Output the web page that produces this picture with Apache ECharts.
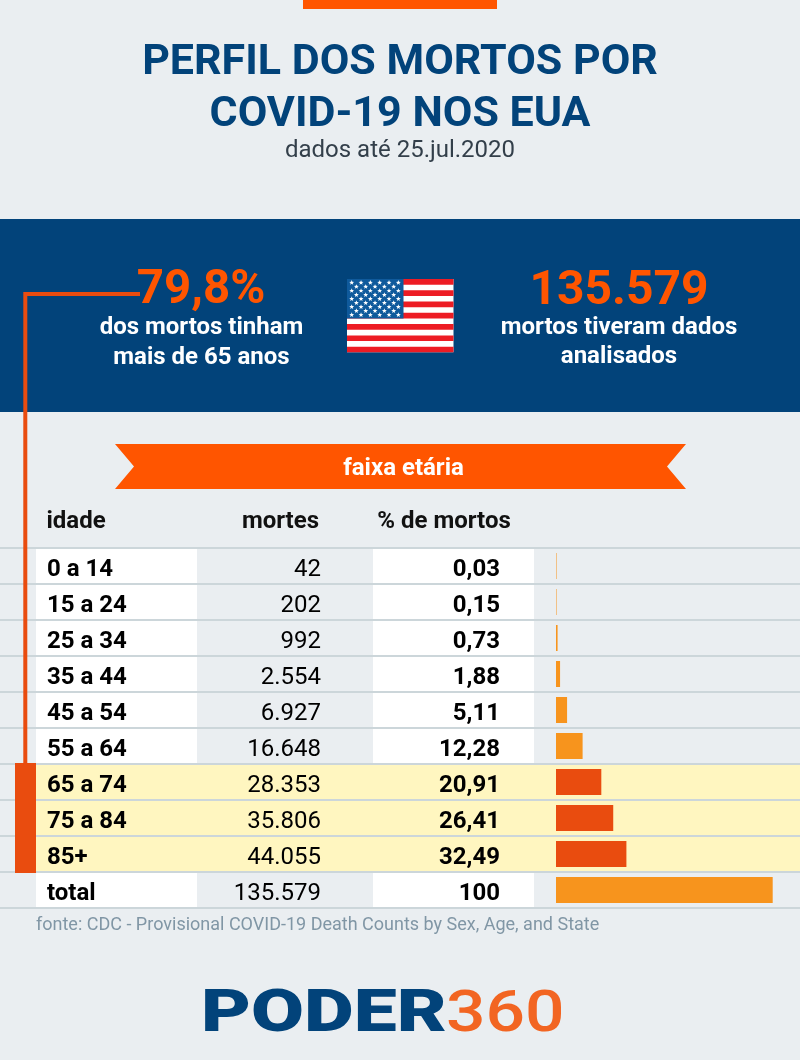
<!DOCTYPE html>
<html><head><meta charset="utf-8">
<style>html,body{margin:0;padding:0;background:#fff}#c{width:801px;height:1060px}</style>
<script src="https://cdn.jsdelivr.net/npm/echarts@6/dist/echarts.min.js"></script>
</head><body><div id="c"></div>
<script>
const titleLines = ['PERFIL DOS MORTOS POR', 'COVID-19 NOS EUA'];
const subtitle = 'dados até 25.jul.2020';
const columnHeads = ['idade', 'mortes', '% de mortos'];
const ages = ['0 a 14','15 a 24','25 a 34','35 a 44','45 a 54','55 a 64','65 a 74','75 a 84','85+','total'];
const deaths = ['42','202','992','2.554','6.927','16.648','28.353','35.806','44.055','135.579'];
const shares = ['0,03','0,15','0,73','1,88','5,11','12,28','20,91','26,41','32,49','100'];
const shareValues = [0.03,0.15,0.73,1.88,5.11,12.28,20.91,26.41,32.49,100];
const highlighted = ['65 a 74','75 a 84','85+'];

const NAVY='#02437a', ORANGE='#ff5500', RED='#e94c0f', AMBER='#f7941d', PALE='#fff6c0', BG='#eaeef1', RULE='#ccd6da';
const F='Roboto, sans-serif';
const W=800;

const g=[];
const rect=(x,y,w,h,fill,z=0)=>g.push({type:'rect',silent:true,z,shape:{x,y,width:w,height:h},style:{fill}});
const text=(t,x,y,size,weight,fill,align='center',extra={})=>g.push(Object.assign({type:'text',silent:true,z:10,style:{text:t,x,y,fill,font:`${weight} ${size}px ${F}`,textAlign:align,textVerticalAlign:'middle'}},extra));

rect(0,0,W,1060,BG,-5);
rect(303,0,194,9,ORANGE);
rect(0,219,W,193,NAVY,-4);

text(titleLines[0],400,63.5,43,700,NAVY);
text(titleLines[1],400,115.5,43,700,NAVY);
text(subtitle,400,150.5,24,400,'#333f4a');

// connector
g.push({type:'polyline',silent:true,z:3,shape:{points:[[140,294],[25.3,294],[25.3,766]]},style:{stroke:RED,lineWidth:4,fill:null}});
text('79,8%',201,291.5,47.5,700,ORANGE);
text('dos mortos tinham',201.5,327.5,24,700,'#fff');
text('mais de 65 anos',201.5,358,24,700,'#fff');
text('135.579',619,291.5,48,700,ORANGE);
text('mortos tiveram dados',619,327.5,24,700,'#fff');
text('analisados',619,357,24,700,'#fff');

// flag
const fx=347,fy=279,fw=106.5,fh=73.3,sh=fh/13;
rect(fx,fy,fw,fh,'#fff',1);
for(let i=0;i<13;i+=2) rect(fx,fy+i*sh,fw,sh,'#ed1c24',1);
rect(fx,fy,56.5,sh*7,'#0f5a9c',2);
const star=(cx,cy,r)=>{const p=[];for(let i=0;i<10;i++){const a=-Math.PI/2+i*Math.PI/5,q=i%2?r*0.42:r;p.push([cx+q*Math.cos(a),cy+q*Math.sin(a)]);}
  g.push({type:'polygon',silent:true,z:3,shape:{points:p},style:{fill:'#fff'}});};
for(let r=0;r<9;r++){const n=r%2?5:6;for(let c=0;c<n;c++) star(fx+4.7+(r%2?4.67:0)+c*9.33,fy+3.7+r*4.03,2.6);}

// ribbon
g.push({type:'polygon',silent:true,z:1,shape:{points:[[115,444],[686,444],[667,466.5],[686,489],[115,489],[134,466.5]]},style:{fill:ORANGE}});
text('faixa etária',403.5,469,24,700,'#fff');

text(columnHeads[0],46.5,522,24,700,'#111','left');
text(columnHeads[1],319,522,24,700,'#111','right');
text(columnHeads[2],444,522,24,700,'#111','center');

text('fonte: CDC - Provisional COVID-19 Death Counts by Sex, Age, and State',36,925,18,400,'#8096a5','left');

// logo
g.push({type:'text',silent:true,z:10,x:201,y:1016,scaleX:1.28,style:{text:'PODER',x:0,y:0,fill:NAVY,font:`900 60px ${F}`,textAlign:'left',textVerticalAlign:'middle'}});
g.push({type:'text',silent:true,z:10,x:446,y:1016,scaleX:1.2,style:{text:'360',x:0,y:0,fill:'#f26522',font:`500 58px ${F}`,textAlign:'left',textVerticalAlign:'middle'}});

const colIdade=46.5, colMortes=321.5, colShare=500.5;
const labelSeries=(name,values,x,pos,weight)=>({
  type:'scatter',name,xAxisIndex:0,yAxisIndex:0,symbolSize:1,silent:true,z:6,
  itemStyle:{color:'transparent',opacity:1},
  data:ages.map((a,i)=>({value:[x,a],label:{formatter:values[i]}})),
  label:{show:true,position:pos,distance:0,color:'#000',opacity:1,fontFamily:F,fontSize:24,fontWeight:weight,offset:[0,4]}
});

const cellSeries={
  type:'custom',xAxisIndex:0,yAxisIndex:0,silent:true,z:1,
  data:ages.map(a=>[0,a]),
  renderItem(p,api){
    const a=ages[p.dataIndex], yc=api.coord([0,a])[1], top=yc-17, h=34, kids=[];
    const R=(x0,x1,fill,t=top,hh=h)=>{const l=api.coord([x0,a])[0],r=api.coord([x1,a])[0];kids.push({type:'rect',shape:{x:l,y:t,width:r-l,height:hh},style:{fill}});};
    if(highlighted.includes(a)){R(36,W,PALE);R(15,36,RED,yc-19,38);}
    else {R(36,197,'#fff');R(373,534,'#fff');}
    return {type:'group',children:kids};
  }
};

const option={
  animation:false,
  backgroundColor:'#fff',
  graphic:{elements:g},
  grid:[
    {left:0,top:548,width:W,height:360,containLabel:false},
    {left:556,top:548,width:216.7,height:360,containLabel:false}
  ],
  xAxis:[
    {gridIndex:0,type:'value',min:0,max:W,show:false},
    {gridIndex:1,type:'value',min:0,max:100,show:false}
  ],
  yAxis:[
    {gridIndex:0,type:'category',data:ages,inverse:true,axisLine:{show:false},axisTick:{show:false},axisLabel:{show:false},
      splitLine:{show:true,interval:0,lineStyle:{color:RULE,width:2}}},
    {gridIndex:1,type:'category',data:ages,inverse:true,axisLine:{show:false},axisTick:{show:false},axisLabel:{show:false},splitLine:{show:false}}
  ],
  series:[
    cellSeries,
    labelSeries('idade',ages,colIdade,'right',700),
    labelSeries('mortes',deaths,colMortes,'left',400),
    labelSeries('% de mortos',shares,colShare,'left',700),
    {type:'bar',name:'barras',xAxisIndex:1,yAxisIndex:1,barWidth:26,barMinHeight:1,silent:true,z:5,
      data:shareValues.map((v,i)=>({value:v,itemStyle:{color:highlighted.includes(ages[i])?RED:AMBER,opacity:v<0.5?0.5:1}}))}
  ]
};
const chart=echarts.init(document.getElementById('c'),null,{renderer:'canvas',width:801,height:1060});
chart.setOption(option);
</script></body></html>
